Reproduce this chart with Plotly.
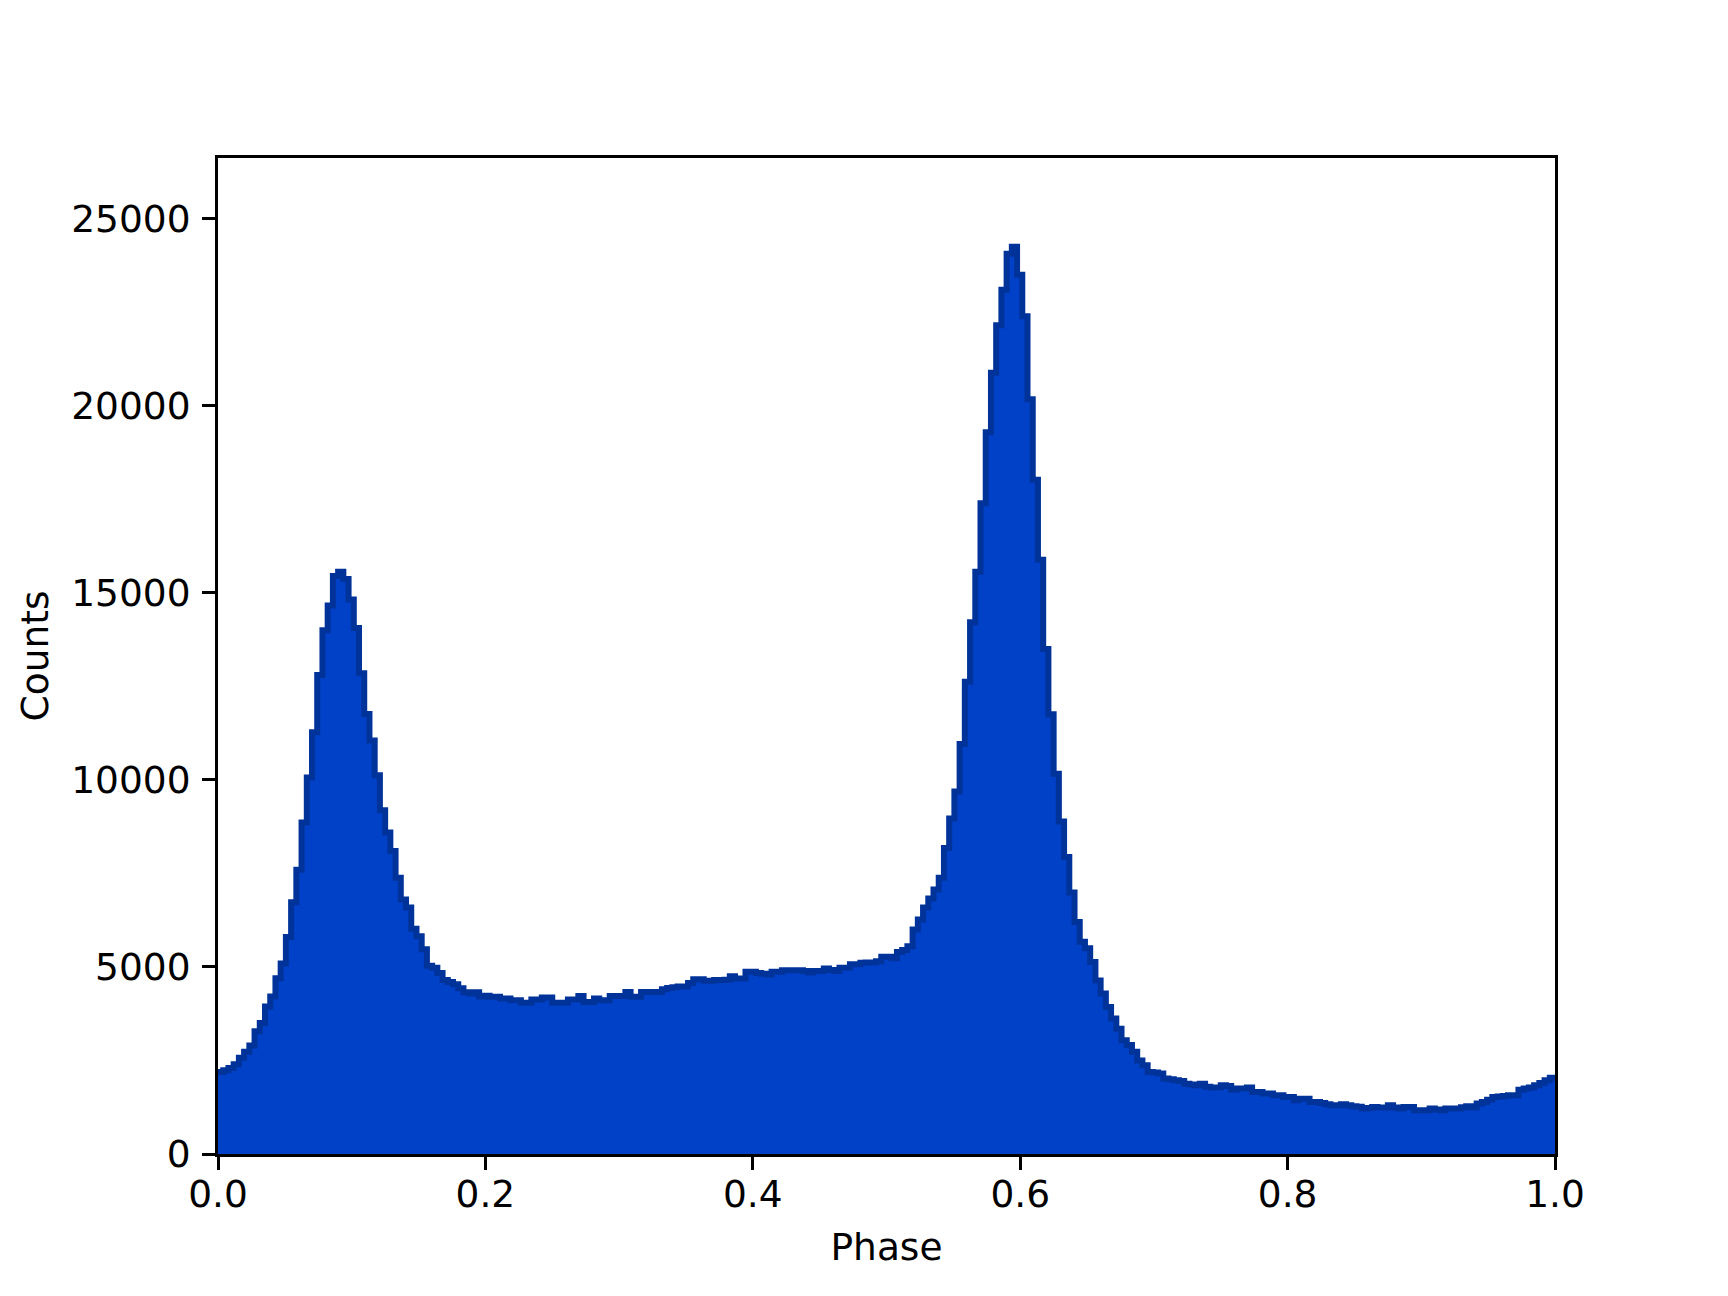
import numpy as np
import plotly.graph_objects as go

# Pulse-profile histogram: 256 phase bins over [0, 1)
n_bins = 256
counts = [
    # 0.000 - 0.199
    2190, 2240, 2300, 2400, 2570, 2730, 2900, 3280, 3500, 3940,
    4210, 4700, 5090, 5800, 6730, 7600, 8860, 10060, 11270, 12800,
    14000, 14660, 15450, 15560, 15370, 14820, 14060, 12850, 11760, 11050,
    10120, 9190, 8590, 8100, 7380, 6800, 6590, 6020, 5820, 5470,
    5030, 4980, 4840, 4650, 4600, 4540, 4430, 4320, 4290, 4320,
    4210,
    # 0.199 - 0.52
    4230, 4200, 4200, 4155, 4155, 4110, 4110, 4040, 4040,
    4130, 4130, 4180, 4180, 4040, 4040, 4040, 4130, 4130, 4220,
    4065, 4065, 4155, 4110, 4110, 4220, 4220, 4220, 4330, 4200,
    4200, 4330, 4330, 4330, 4330, 4400, 4440, 4460, 4480, 4480,
    4570, 4670, 4670, 4630, 4630, 4650, 4650, 4660, 4750, 4690,
    4690, 4870, 4870, 4840, 4820, 4800, 4870, 4870, 4910, 4910,
    4910, 4910, 4890, 4850, 4890, 4890, 4960, 4920, 4890, 4980,
    4980, 5070, 5070, 5110, 5120, 5120, 5150, 5270, 5270, 5230,
    5400, 5450, 5550,
    # second peak
    6000, 6270, 6590, 6830, 7070, 7380, 8180,
    8970, 9690, 10960, 12620, 14210, 15560, 17390, 19290, 20880, 22150,
    23100, 24060, 24250, 23500, 22390, 20170, 18020, 15880, 13500, 11750,
    10160, 8890, 7940, 6990,
    # decay and off-pulse
    6200, 5670, 5500, 5130, 4640, 4290,
    3930, 3620, 3350, 3040, 2910, 2730, 2500, 2370, 2190, 2180,
    2150, 2020, 2000, 1970, 1950, 1880, 1860, 1840, 1880, 1800,
    1775, 1775, 1840, 1820, 1720, 1750, 1750, 1780, 1660, 1660,
    1615, 1615, 1570, 1570, 1525, 1525, 1435, 1480, 1480, 1390,
    1390,
    # 0.824 - 1.0
    1360, 1330, 1300, 1300, 1330, 1300, 1275, 1260, 1215,
    1230, 1255, 1240, 1240, 1300, 1240, 1215, 1255, 1255, 1170,
    1170, 1170, 1215, 1190, 1170, 1215, 1215, 1215, 1250, 1275,
    1240, 1350, 1390, 1450, 1525, 1540, 1550, 1570, 1570, 1720,
    1750, 1775, 1840, 1900, 1970, 2040,
]
assert len(counts) == n_bins, len(counts)

x_ticks = [0.0, 0.2, 0.4, 0.6, 0.8, 1.0]
x_tick_labels = ["0.0", "0.2", "0.4", "0.6", "0.8", "1.0"]
y_ticks = [0, 5000, 10000, 15000, 20000, 25000]
y_tick_labels = ["0", "5000", "10000", "15000", "20000", "25000"]

edges = np.linspace(0.0, 1.0, n_bins + 1)
xs = list(edges)
ys = list(counts) + [counts[-1]]

FONT = "DejaVu Sans"
FS = 37.5

fig = go.Figure()
fig.add_trace(go.Scatter(
    x=xs, y=ys, mode="lines", line_shape="hv",
    line=dict(color="#00339A", width=6),
    fill="tozeroy", fillcolor="#0041C8",
    hoverinfo="skip", showlegend=False,
))

axis_common = dict(
    showline=True, linecolor="black", linewidth=3, mirror=True,
    ticks="outside", ticklen=13, tickwidth=3, tickcolor="black",
    showgrid=False, zeroline=False, automargin=False,
    tickfont=dict(family=FONT, size=FS, color="black"),
)

fig.update_layout(
    width=1728, height=1296,
    template="none",
    paper_bgcolor="white", plot_bgcolor="white",
    margin=dict(l=210, r=181, t=150, b=150, pad=0),
    xaxis=dict(range=[0, 1], tickvals=x_ticks, ticktext=x_tick_labels,
               ticklabelstandoff=-8,
               title=dict(text="Phase", font=dict(family=FONT, size=FS, color="black"), standoff=19),
               **axis_common),
    yaxis=dict(range=[0, 26620], tickvals=y_ticks, ticktext=y_tick_labels,
               ticklabelstandoff=4,
               title=dict(text="Counts", font=dict(family=FONT, size=FS, color="black"), standoff=12),
               **axis_common),
    showlegend=False,
)

fig.write_html("out.html")
